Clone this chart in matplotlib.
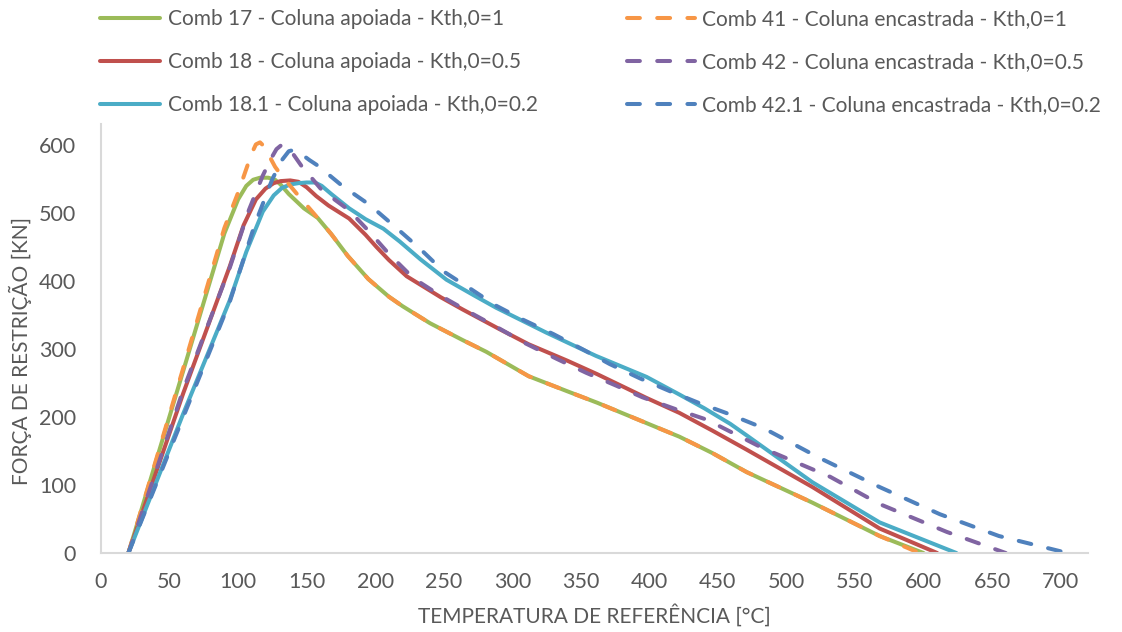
import matplotlib
matplotlib.use("Agg")
import matplotlib.pyplot as plt

plt.rcParams['font.family'] = ['Lato', 'DejaVu Sans']

# ---------------- data ----------------
comb17_x = [20, 60, 90, 100, 106, 111, 116, 122, 127, 131, 137, 148, 158, 168, 180, 195, 210, 220, 240, 264, 281, 312, 340, 362, 398, 422, 446, 471, 519, 568, 600]
comb17_y = [0, 268, 470, 520, 540, 549, 552, 552, 549, 542, 528, 507, 493, 469, 437, 403, 377, 363, 338, 313, 296, 260, 238, 221, 191, 171, 147, 119, 74, 25, 0]

comb41_x = [20, 60, 90, 100, 106, 110, 113, 116, 119, 123, 127, 131, 143, 161, 168, 180, 195, 210, 220, 240, 264, 281, 312, 340, 362, 398, 422, 446, 471, 519, 568, 597]
comb41_y = [0, 272, 478, 530, 565, 588, 601, 604, 598, 583, 568, 557, 528, 486, 469, 437, 403, 377, 363, 338, 313, 296, 260, 238, 221, 191, 171, 147, 119, 74, 25, 0]

comb18_x = [20, 60, 94, 104, 113, 120, 126, 131, 138, 144, 150, 157, 166, 181, 193, 201, 210, 223, 248, 264, 290, 312, 340, 362, 398, 422, 446, 471, 519, 568, 610]
comb18_y = [0, 235, 422, 482, 520, 536, 544, 547, 548, 546, 538, 525, 511, 492, 468, 450, 431, 407, 376, 358, 330, 307, 283, 263, 228, 206, 180, 152, 97, 36, 0]

comb42_x = [20, 60, 94, 108, 118, 124, 128, 131, 134, 138, 146, 161, 181, 196, 210, 228, 248, 269, 289, 310, 332, 354, 376, 395, 420, 442, 483, 532, 568, 617, 660]
comb42_y = [0, 240, 420, 505, 555, 580, 594, 599, 599, 593, 570, 534, 504, 472, 440, 404, 378, 354, 332, 308, 286, 265, 246, 229, 211, 196, 154, 112, 72, 31, 0]

comb181_x = [20, 60, 94, 106, 118, 126, 132, 138, 144, 150, 156, 161, 168, 181, 193, 206, 218, 233, 252, 272, 288, 325, 361, 398, 422, 440, 459, 471, 519, 568, 624]
comb181_y = [0, 205, 372, 443, 502, 526, 537, 542, 544, 545, 545, 540, 528, 507, 491, 477, 458, 432, 402, 379, 361, 324, 290, 259, 233, 213, 190, 173, 104, 45, 0]

comb421_x = [20, 60, 94, 112, 125, 132, 137, 141, 146, 152, 158, 176, 196, 215, 233, 250, 270, 288, 308, 330, 351, 371, 393, 415, 437, 456, 483, 524, 568, 612, 655, 705]
comb421_y = [0, 200, 370, 482, 550, 578, 591, 593, 587, 578, 570, 540, 512, 479, 447, 414, 388, 364, 343, 322, 300, 278, 257, 238, 220, 206, 184, 140, 97, 57, 25, 0]

labels = [
    "Comb 17 - Coluna apoiada - Kth,0=1",
    "Comb 18 - Coluna apoiada - Kth,0=0.5",
    "Comb 18.1 - Coluna apoiada - Kth,0=0.2",
    "Comb 41 - Coluna encastrada - Kth,0=1",
    "Comb 42 - Coluna encastrada - Kth,0=0.5",
    "Comb 42.1 - Coluna encastrada - Kth,0=0.2",
]
x_ticks = [0, 50, 100, 150, 200, 250, 300, 350, 400, 450, 500, 550, 600, 650, 700]
y_ticks = [0, 100, 200, 300, 400, 500, 600]

# ---------------- style ----------------
GREEN, RED, CYAN = "#9BBB59", "#C0504D", "#4BACC6"
ORANGE, PURPLE, BLUE = "#F79646", "#8064A2", "#4F81BD"
TXT = "#595959"
AX = "#D9D9D9"
LW = 2.9
FS_TICK = 15.5
FS_LEG = 15
FS_LAB = 15

fig = plt.figure(figsize=(11.22, 6.32), dpi=100)
ax = fig.add_axes([101 / 1122, 1 - 553 / 632, (1088 - 101) / 1122, (553 - 124) / 632])

solid = dict(lw=LW, solid_capstyle='round', solid_joinstyle='round')
dashed = dict(lw=LW, dash_capstyle='round', dash_joinstyle='round', dashes=(3.2, 4.3))

h1, = ax.plot(comb17_x, comb17_y, color=GREEN, label=labels[0], **solid)
h2, = ax.plot(comb18_x, comb18_y, color=RED, label=labels[1], **solid)
h3, = ax.plot(comb181_x, comb181_y, color=CYAN, label=labels[2], **solid)
h4, = ax.plot(comb41_x, comb41_y, color=ORANGE, label=labels[3], **dashed)
h5, = ax.plot(comb42_x, comb42_y, color=PURPLE, label=labels[4], **dashed)
h6, = ax.plot(comb421_x, comb421_y, color=BLUE, label=labels[5], **dashed)

ax.set_xlim(0, 720)
ax.set_ylim(0, 631)
ax.set_xticks(x_ticks)
ax.set_yticks(y_ticks)
ax.tick_params(length=0, labelsize=FS_TICK, colors=TXT)
ax.tick_params(axis='x', pad=14)
ax.tick_params(axis='y', pad=18)
for s in ['top', 'right']:
    ax.spines[s].set_visible(False)
for s in ['left', 'bottom']:
    ax.spines[s].set_color(AX)
    ax.spines[s].set_linewidth(1.5)

ax.set_xlabel("TEMPERATURA DE REFERÊNCIA [°C]", fontsize=FS_LAB, color=TXT, labelpad=8)
ax.set_ylabel("FORÇA DE RESTRIÇÃO [KN]", fontsize=FS_LAB, color=TXT)
ax.yaxis.set_label_coords(-0.07, 0.47)

leg_kw = dict(frameon=False, fontsize=FS_LEG, handletextpad=0.34,
              labelspacing=1.1, borderpad=0, borderaxespad=0, loc='upper left', labelcolor=TXT)
fig.legend(handles=[h1, h2, h3], bbox_to_anchor=(100 / 1122, 1 - 9 / 632), handlelength=2.9, **leg_kw)
fig.legend(handles=[h4, h5, h6], bbox_to_anchor=(627 / 1122, 1 - 9 / 632), handlelength=3.27, **leg_kw)

fig.savefig("out.png", dpi=100)
